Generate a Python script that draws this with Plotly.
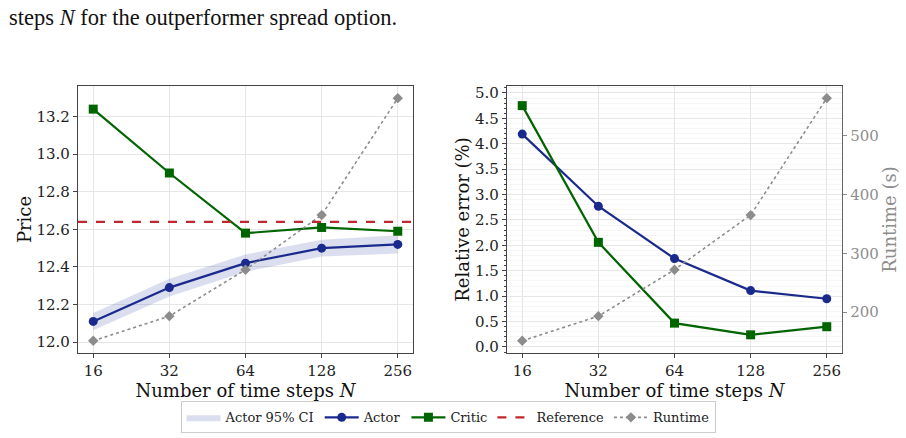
import math
import plotly.graph_objects as go

# ---- data ----
steps = [16, 32, 64, 128, 256]
step_labels = ["16", "32", "64", "128", "256"]
actor_price = [12.11, 12.29, 12.42, 12.50, 12.52]
actor_ci_low = [12.063, 12.243, 12.374, 12.455, 12.471]
actor_ci_high = [12.155, 12.337, 12.466, 12.545, 12.569]
critic_price = [13.24, 12.90, 12.58, 12.61, 12.59]
reference_price = 12.64
runtime_s = [151, 193, 272, 365, 564]
actor_err = [4.19, 2.77, 1.74, 1.11, 0.95]
critic_err = [4.75, 2.06, 0.47, 0.24, 0.40]
price_ticks = [12.0, 12.2, 12.4, 12.6, 12.8, 13.0, 13.2]
runtime_ticks = [200, 300, 400, 500]

W, H = 906, 438
C_ACTOR = "#1a2a8c"
C_CRITIC = "#006400"
C_REF = "#c0282d"
C_RUN = "#8c8c8c"
C_BAND = "rgba(40,60,160,0.17)"
SPINE = "#444444"
GRID = "#e6e6e6"
FONT = "'DejaVu Serif', serif"

fig = go.Figure()

# ---- left panel ----
fig.add_trace(go.Scatter(x=steps, y=actor_ci_low, mode="lines", line=dict(width=0),
                         showlegend=False, hoverinfo="skip", xaxis="x", yaxis="y"))
fig.add_trace(go.Scatter(x=steps, y=actor_ci_high, mode="lines", line=dict(width=0),
                         fill="tonexty", fillcolor=C_BAND, name="Actor 95% CI",
                         xaxis="x", yaxis="y"))
fig.add_trace(go.Scatter(x=steps, y=runtime_s, mode="lines+markers",
                         line=dict(color=C_RUN, width=1.6, dash="dot"),
                         marker=dict(symbol="diamond", size=8, color=C_RUN),
                         showlegend=False, xaxis="x", yaxis="y3"))
fig.add_trace(go.Scatter(x=steps, y=actor_price, mode="lines+markers", name="Actor",
                         line=dict(color=C_ACTOR, width=2.2),
                         marker=dict(symbol="circle", size=9, color=C_ACTOR),
                         xaxis="x", yaxis="y"))
fig.add_trace(go.Scatter(x=steps, y=critic_price, mode="lines+markers", name="Critic",
                         line=dict(color=C_CRITIC, width=2.2),
                         marker=dict(symbol="square", size=9, color=C_CRITIC),
                         xaxis="x", yaxis="y"))
# legend-only entry for the reference line
fig.add_trace(go.Scatter(x=[None], y=[None], mode="lines", name="Reference",
                         line=dict(color=C_REF, width=2.2, dash="dash"),
                         xaxis="x", yaxis="y"))
fig.add_shape(type="line", xref="x domain", yref="y", x0=0, x1=1,
              y0=reference_price, y1=reference_price,
              line=dict(color=C_REF, width=2.2, dash="dash"))

# ---- right panel ----
fig.add_trace(go.Scatter(x=steps, y=runtime_s, mode="lines+markers", name="Runtime",
                         line=dict(color=C_RUN, width=1.6, dash="dot"),
                         marker=dict(symbol="diamond", size=8, color=C_RUN),
                         xaxis="x2", yaxis="y4"))
fig.add_trace(go.Scatter(x=steps, y=actor_err, mode="lines+markers", showlegend=False,
                         line=dict(color=C_ACTOR, width=2.2),
                         marker=dict(symbol="circle", size=9, color=C_ACTOR),
                         xaxis="x2", yaxis="y2"))
fig.add_trace(go.Scatter(x=steps, y=critic_err, mode="lines+markers", showlegend=False,
                         line=dict(color=C_CRITIC, width=2.2),
                         marker=dict(symbol="square", size=9, color=C_CRITIC),
                         xaxis="x2", yaxis="y2"))

pad = 0.2 * math.log10(2)
xr = [math.log10(steps[0]) - pad, math.log10(steps[-1]) + pad]
rt_span = max(runtime_s) - min(runtime_s)
rt_range = [min(runtime_s) - 0.05 * rt_span, max(runtime_s) + 0.05 * rt_span]

tickfont = dict(family=FONT, size=15, color="#222222")
titlefont = dict(family=FONT, size=18, color="#111111")

def xaxis(domain, anchor):
    return dict(domain=domain, anchor=anchor, type="log", range=xr,
                tickmode="array", tickvals=steps, ticktext=step_labels,
                showgrid=True, gridcolor=GRID, gridwidth=1,
                showline=True, mirror=True, linecolor=SPINE, linewidth=1.3,
                ticks="outside", ticklen=4, tickcolor=SPINE, tickfont=dict(tickfont),
                title=dict(text="Number of time steps <i>N</i>", font=dict(titlefont), standoff=0),
                zeroline=False)

ydom = [1 - 355 / H, 1 - 85 / H]

fig.update_layout(
    width=W, height=H,
    margin=dict(l=0, r=0, t=0, b=0),
    paper_bgcolor="white", plot_bgcolor="white",
    font=dict(family=FONT, color="#222222", size=15),
    xaxis=xaxis([78 / W, 413 / W], "y"),
    xaxis2=xaxis([507 / W, 842 / W], "y2"),
    yaxis=dict(domain=ydom, anchor="x", range=[11.942, 13.363],
               tickmode="array", tickvals=price_ticks,
               ticktext=[f"{v:.1f}" for v in price_ticks],
               showgrid=True, gridcolor=GRID, showline=True, mirror=True,
               linecolor=SPINE, linewidth=1.3, ticks="outside", ticklen=4,
               tickcolor=SPINE, tickfont=dict(tickfont), zeroline=False,
               title=dict(text="Price", font=dict(titlefont), standoff=0)),
    yaxis3=dict(overlaying="y", anchor="x", visible=False, range=rt_range),
    yaxis2=dict(domain=ydom, anchor="x2", range=[-0.117, 5.136],
                tick0=0, dtick=0.5, tickformat=".1f",
                showgrid=True, gridcolor=GRID, showline=True, mirror=True,
                linecolor=SPINE, linewidth=1.3, ticks="outside", ticklen=4,
                tickcolor=SPINE, tickfont=dict(tickfont), zeroline=False,
                minor=dict(dtick=0.1, showgrid=True, gridcolor="#f6f6f6",
                           ticks="outside", ticklen=2, tickcolor=SPINE),
                title=dict(text="Relative error (%)", font=dict(titlefont), standoff=0)),
    yaxis4=dict(overlaying="y2", anchor="x2", side="right", range=rt_range,
                tickmode="array", tickvals=runtime_ticks,
                showgrid=False, showline=True, linecolor="#666666", linewidth=1.3,
                ticks="outside", ticklen=4, tickcolor=C_RUN, zeroline=False,
                tickfont=dict(family=FONT, size=15, color=C_RUN),
                title=dict(text="Runtime (s)", font=dict(family=FONT, size=18, color=C_RUN),
                           standoff=0)),
    legend=dict(orientation="h", x=0.4945, xanchor="center", y=1 - 404 / H, yanchor="top",
                bordercolor="#cccccc", borderwidth=1, bgcolor="white",
                font=dict(family=FONT, size=13, color="#222222"),
                itemwidth=34, tracegroupgap=0, traceorder="normal"),
    annotations=[dict(text="steps <i>N</i> for the outperformer spread option.",
                      xref="paper", yref="paper", x=7 / W, y=1 - 1 / H,
                      xanchor="left", yanchor="top", showarrow=False,
                      font=dict(family="'Liberation Serif', 'Times New Roman', serif",
                                size=22.5, color="#111111"))],
)

fig.write_html("out.html")
